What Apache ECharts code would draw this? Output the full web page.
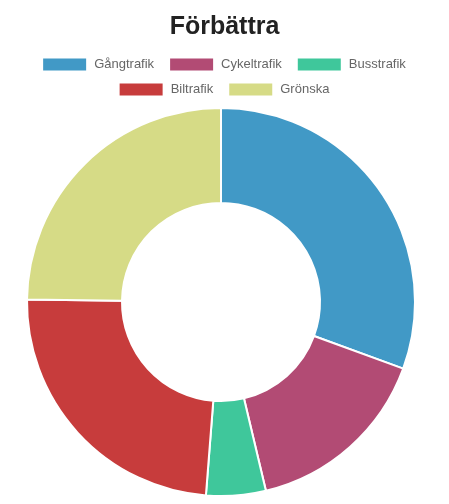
<!DOCTYPE html>
<html>
<head>
<meta charset="utf-8">
<script src="https://cdn.jsdelivr.net/npm/echarts@6/dist/echarts.min.js"></script>
<style>
  html, body { margin: 0; padding: 0; background: #fff; }
  #chart { width: 449px; height: 504px; }
</style>
</head>
<body>
<div id="chart"></div>
<script>
// data
const categories = ["Gångtrafik", "Cykeltrafik", "Busstrafik", "Biltrafik", "Grönska"];
const values = [37, 19, 6, 29, 30];
const colors = ["#4199c6", "#b24b74", "#3fc79b", "#c73c3c", "#d6db86"];

const mychart = echarts.init(document.getElementById("chart"));

const legendBase = {
  icon: "rect",
  itemWidth: 43,
  itemHeight: 12,
  itemGap: 16,
  itemStyle: { borderWidth: 0 },
  textStyle: {
    color: "#666",
    fontSize: 13,
    fontFamily: "Liberation Sans, Arial, sans-serif",
    padding: [0, 0, 0, 3],
  },
  selectedMode: false,
};

const option = {
  animation: false,
  color: colors,
  title: {
    text: "Förbättra",
    left: "center",
    top: 10,
    textStyle: {
      fontSize: 25,
      fontWeight: "bold",
      color: "#222",
      fontFamily: "Liberation Sans, Arial, sans-serif",
    },
  },
  legend: [
    Object.assign({}, legendBase, { data: categories.slice(0, 3), left: "center", top: 53 }),
    Object.assign({}, legendBase, { data: categories.slice(3), left: "center", top: 78 }),
  ],
  series: [
    {
      type: "pie",
      center: [221, 302],
      radius: [99, 194],
      startAngle: 90,
      clockwise: true,
      label: { show: false },
      labelLine: { show: false },
      itemStyle: { borderColor: "#fff", borderWidth: 2 },
      emphasis: { disabled: true },
      data: categories.map((name, i) => ({ name: name, value: values[i] })),
    },
  ],
};
mychart.setOption(option);
</script>
</body>
</html>
